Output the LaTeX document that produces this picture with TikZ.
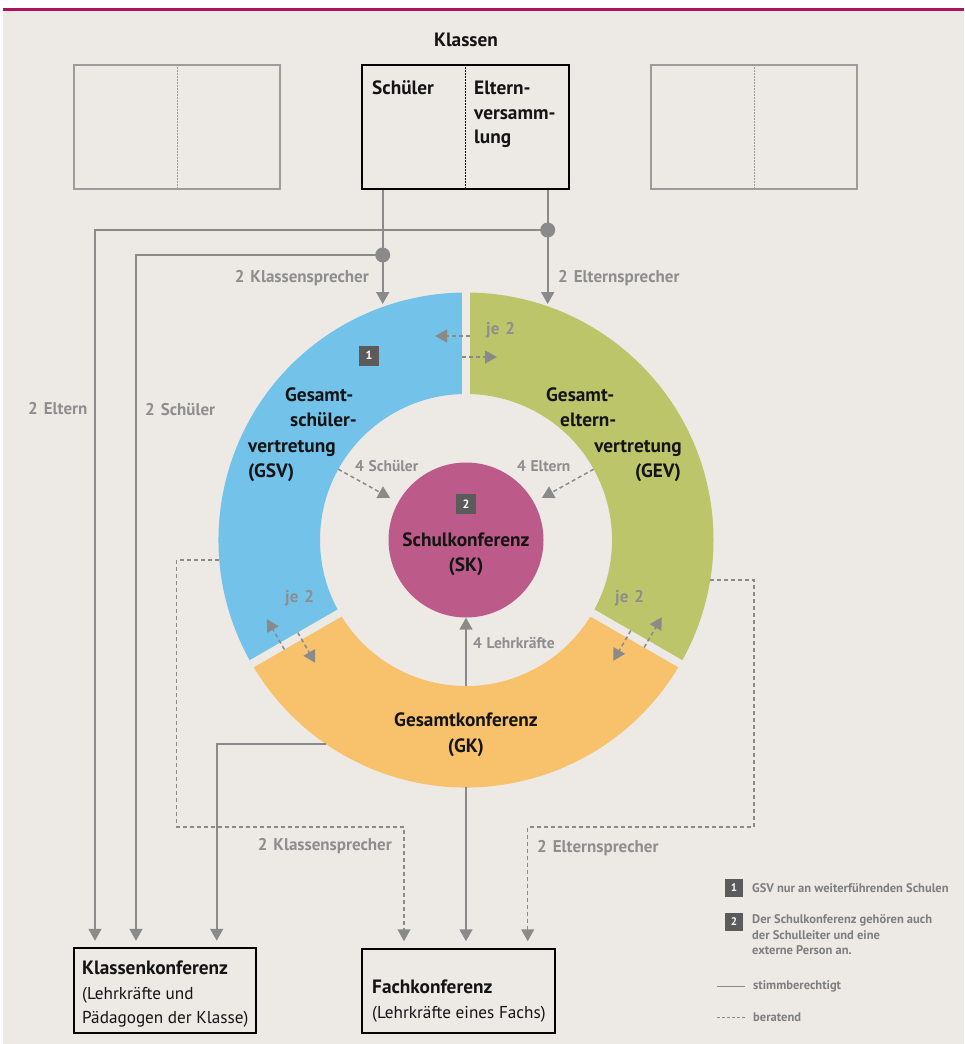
\documentclass[tikz,border=0pt]{standalone}
\usepackage{fontspec}
\setmainfont{PT Sans}
\usetikzlibrary{arrows.meta,calc}
\definecolor{bg}{HTML}{EDEAE6}
\definecolor{topline}{HTML}{A9155F}
\definecolor{gsvblue}{HTML}{72C2E9}
\definecolor{gevgreen}{HTML}{BDC56A}
\definecolor{gkorange}{HTML}{F8C16B}
\definecolor{skpink}{HTML}{BC5A89}
\definecolor{linegray}{HTML}{8A8A8A}
\definecolor{labelgray}{HTML}{8E8E8E}
\definecolor{numgray}{HTML}{5B5B5B}
\definecolor{boxgray}{HTML}{9C9C9C}
\definecolor{legendgray}{HTML}{7E7E7E}
\definecolor{textblack}{HTML}{141414}
\begin{document}
\begin{tikzpicture}[x=1pt,y=-1pt,
  conn/.style={draw=linegray, line width=1.8pt},
  dconn/.style={draw=linegray, line width=1.5pt, dash pattern=on 4pt off 3pt},
  tipa/.style={-{Triangle[width=13pt,length=12pt]}},
  glabel/.style={text=labelgray, font=\bfseries\fontsize{17}{20}\selectfont, inner sep=0pt},
  slabel/.style={text=labelgray, font=\bfseries\fontsize{15.5}{18}\selectfont, inner sep=0pt},
  title/.style={text=textblack, font=\bfseries\fontsize{19.3}{24.5}\selectfont, inner sep=0pt},
  plain/.style={text=textblack, font=\fontsize{17.2}{24.5}\selectfont, inner sep=0pt},
  numbox/.style={fill=numgray, text=white, font=\bfseries\fontsize{12}{12}\selectfont, minimum size=20pt, inner sep=0pt},
  lnumbox/.style={fill=numgray, text=white, font=\bfseries\fontsize{11}{11}\selectfont, minimum size=18pt, inner sep=0pt},
  legtext/.style={text=legendgray, font=\bfseries\fontsize{12.5}{15.5}\selectfont, inner sep=0pt, align=left},
  sidebox/.style={draw=boxgray, line width=1.5pt, minimum width=206pt, minimum height=124pt, inner sep=0pt},
  mainbox/.style={draw=black, line width=1.5pt, inner sep=0pt},
  divider/.style={line width=1pt, dash pattern=on 1.5pt off 1.5pt}
]
\useasboundingbox (0,0) rectangle (964,1044);
\fill[white] (0,0) rectangle (964,1044);
\fill[bg] (3,10.5) rectangle (964,1044);
\fill[topline] (3,8) rectangle (964,10.5);

% ---- top: classes
\node[title, anchor=base] (klassen) at (466,46.7) {Klassen};
\node[sidebox] (lbox) at (177,127) {};
\draw[divider, draw=boxgray] (lbox.north) -- (lbox.south);
\node[sidebox] (rbox) at (754,127) {};
\draw[divider, draw=boxgray] (rbox.north) -- (rbox.south);
\node[mainbox, minimum width=207pt, minimum height=124pt] (kl) at (465.5,127) {};
\draw[divider, draw=black] (kl.north) -- (kl.south);
\node[title, anchor=base west] (schueler) at (372,94.7) {Schüler};
\node[title, anchor=north west, align=left] (eltern) at (474,81) {Eltern-\\versamm-\\lung};

% ---- ring
\coordinate (c) at (466,540);
\begin{scope}[shift={(466,540)}]
  \fill[gsvblue] (150:146) -- (150:247.5) arc[start angle=150,end angle=270,radius=247.5] -- (270:146) arc[start angle=270,end angle=150,radius=146] -- cycle;
  \fill[gkorange] (30:146) -- (30:247.5) arc[start angle=30,end angle=150,radius=247.5] -- (150:146) arc[start angle=150,end angle=30,radius=146] -- cycle;
  \fill[gevgreen] (-90:146) -- (-90:247.5) arc[start angle=-90,end angle=30,radius=247.5] -- (30:146) arc[start angle=30,end angle=-90,radius=146] -- cycle;
  \foreach \a in {270,150,30} \draw[bg, line width=8pt] (\a:140) -- (\a:256);
\end{scope}
\node[circle, fill=skpink, minimum size=155pt, inner sep=0pt] (sk) at (c) {};
\node[numbox] (n2) at (466,504) {2};
\node[title, anchor=base] (sk1) at (466,546.7) {Schulkonferenz};
\node[title, anchor=base] (sk2) at (466,571.7) {(SK)};
\node[numbox] (n1) at (369,355.5) {1};

\node[title, anchor=base west] (gsv1) at (285,401.7) {Gesamt-};
\node[title, anchor=base west] (gsv2) at (290,426.7) {schüler-};
\node[title, anchor=base west] (gsv3) at (248,452.7) {vertretung};
\node[title, anchor=base west] (gsv4) at (248,477.7) {(GSV)};
\node[title, anchor=base west] (gev1) at (546,401.7) {Gesamt-};
\node[title, anchor=base west] (gev2) at (560,426.7) {eltern-};
\node[title, anchor=base east] (gev3) at (682,452.7) {vertretung};
\node[title, anchor=base east] (gev4) at (681,477.7) {(GEV)};
\node[title, anchor=base] (gk1) at (466,726.7) {Gesamtkonferenz};
\node[title, anchor=base] (gk2) at (466,752.7) {(GK)};

% ---- bottom boxes
\node[mainbox, minimum width=182pt, minimum height=85pt] (kk) at (165,990.5) {};
\node[plain, anchor=north west, align=left] (kktext) at (82,961) {{\bfseries\fontsize{19.3}{24.5}\selectfont Klassenkonferenz}\\(Lehrkräfte und\\Pädagogen der Klasse)};
\node[mainbox, minimum width=193pt, minimum height=84pt] (fk) at (458.5,991) {};
\node[plain, anchor=north west, align=left] (fktext) at (372,980) {{\bfseries\fontsize{19.3}{24.5}\selectfont Fachkonferenz}\\(Lehrkräfte eines Fachs)};

% ---- coordinates
\coordinate (dotS) at (382.7,255);
\coordinate (dotE) at (547.7,230);
\coordinate (gsvTop) at (382.7,304);
\coordinate (gevTop) at (547.7,304);
\coordinate (eLeft) at (95,230);
\coordinate (sLeft) at (136,255);
\coordinate (gkL) at (326,744);
\coordinate (gkX) at (216.7,744);
\coordinate (gkB) at (466,786.5);
\coordinate (gkIn) at (466,686);
\coordinate (gsvL) at (218.5,560);
\coordinate (bendL) at (176.7,827);
\coordinate (fkA) at (404,827);
\coordinate (gevR) at (710,580);
\coordinate (bendR) at (754,827);
\coordinate (fkC) at (527.7,827);
\coordinate (gsvIn) at ($(c)+(209:146)$);
\coordinate (gevIn) at ($(c)+(331:146)$);

% ---- solid connectors
\draw[conn, tipa] (kl.south -| dotS) -- (gsvTop);
\draw[conn, tipa] (kl.south -| dotE) -- (gevTop);
\draw[conn, tipa, shorten >=6.5pt] (dotE) -| (kk.north -| eLeft);
\draw[conn, tipa, shorten >=6.5pt] (dotS) -| (kk.north -| sLeft);
\fill[linegray] (dotE) circle[radius=7.5];
\fill[linegray] (dotS) circle[radius=7.5];
\draw[conn, tipa, shorten >=6.5pt] (gkL) -| (kk.north -| gkX);
\draw[conn, tipa, shorten >=7pt] (gkB) -- (fk.north -| gkB);
\draw[conn, tipa] (gkIn) -- (sk.south);

% ---- dashed connectors
\draw[dconn, tipa, shorten >=7pt] (gsvL) -| (bendL) -| (fk.north -| fkA);
\draw[dconn, tipa, shorten >=7pt] (gevR) -| (bendR) -| (fk.north -| fkC);
\draw[dconn, tipa, shorten >=9pt] (gsvIn) -- (sk);
\draw[dconn, tipa, shorten >=9pt] (gevIn) -- (sk);
\foreach \g/\r/\s in {270/204/1, 270/183/-1, 150/212/-1, 150/192/1, 30/208/1, 30/188/-1}
  \draw[dconn, tipa] ($(c)+(\g:\r)+(\g+90:4*\s)$) -- ($(c)+(\g:\r)+(\g+90:-31*\s)$);

% ---- gray labels
\node[glabel, anchor=east] (l1) at (369,278) {2\hspace{0.35em}Klassensprecher};
\node[glabel, anchor=west] (l2) at (558,278) {2\hspace{0.35em}Elternsprecher};
\node[glabel, anchor=west] (l3) at (28,409) {2\hspace{0.35em}Eltern};
\node[glabel, anchor=west] (l4) at (145,409) {2\hspace{0.35em}Schüler};
\node[glabel, anchor=west] (l5) at (486,330) {je\hspace{0.35em}2};
\node[slabel, anchor=west] (l6) at (355,466) {4\hspace{0.3em}Schüler};
\node[slabel, anchor=west] (l7) at (517,466) {4\hspace{0.3em}Eltern};
\node[glabel, anchor=west] (l8) at (285,598) {je\hspace{0.35em}2};
\node[glabel, anchor=west] (l9) at (615,598) {je\hspace{0.35em}2};
\node[slabel, anchor=west] (l10) at (473,643) {4\hspace{0.3em}Lehrkräfte};
\node[glabel, anchor=east] (l11) at (392,846) {2\hspace{0.35em}Klassensprecher};
\node[glabel, anchor=west] (l12) at (537,848) {2\hspace{0.35em}Elternsprecher};

% ---- legend
\node[lnumbox] (ln1) at (734,888) {1};
\node[legtext, anchor=west] (lt1) at (752,888) {GSV nur an weiterführenden Schulen};
\node[lnumbox] (ln2) at (734,922) {2};
\node[legtext, anchor=north west] (lt2) at (752,914.5) {Der Schulkonferenz gehören auch\\der Schulleiter und eine\\externe Person an.};
\coordinate (ls1) at (717,986);
\node[legtext, anchor=west] (lt3) at (753,986) {stimmberechtigt};
\draw[draw=linegray, line width=1pt] (ls1) -- (lt3.west -| 745,0);
\coordinate (ls2) at (717,1017);
\node[legtext, anchor=west] (lt4) at (753,1017) {beratend};
\draw[draw=linegray, line width=1pt, dash pattern=on 3pt off 2pt] (ls2) -- (lt4.west -| 745,0);
\end{tikzpicture}
\end{document}
